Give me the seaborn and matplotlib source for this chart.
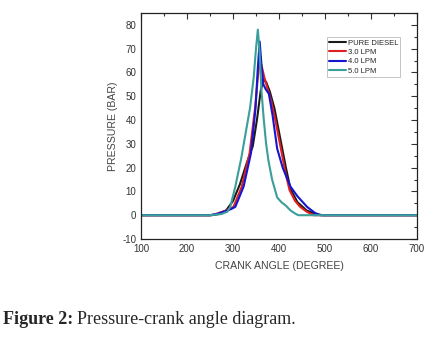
import numpy as np
import pandas as pd
import matplotlib
matplotlib.use('Agg')
import matplotlib.pyplot as plt
from matplotlib.ticker import MultipleLocator
import seaborn as sns

# values
diesel_x = [100, 250, 270, 285, 300, 315, 330, 343, 352, 360, 366, 372, 380, 390, 397, 405, 415, 425, 440, 460, 480, 495, 700]
diesel_y = [0, 0, 0.5, 2, 6, 13, 22, 29, 40, 52, 57, 56, 52, 45, 38, 30, 20, 11, 5.5, 2, 0.5, 0, 0]

lpm3_x = [100, 255, 270, 285, 301, 319, 336, 348, 354, 358, 362, 368, 374, 383, 392, 406, 415, 423, 435, 446, 460, 475, 700]
lpm3_y = [0, 0, 1, 2, 3.5, 12, 26, 45, 58, 65, 63, 58, 54, 48, 40, 26, 17, 10.5, 6, 3.5, 1.5, 0, 0]

lpm4_x = [100, 250, 265, 280, 295, 305, 323, 339, 349, 354, 358, 362, 366, 371, 378, 386, 396, 408, 425, 440, 461, 478, 490, 700]
lpm4_y = [0, 0, 0.5, 1.5, 2.5, 3.5, 12, 26, 45, 62, 73, 63, 55, 53, 51, 42, 28, 20, 12, 8, 3.5, 1, 0, 0]

lpm5_x = [100, 250, 275, 288, 294, 305, 318, 327, 337, 345, 350, 354, 358, 362, 367, 372, 377, 385, 396, 405, 415, 425, 435, 442, 700]
lpm5_y = [0, 0, 0.5, 1.5, 3.5, 12, 24, 34, 45, 58, 70, 78, 68, 52, 40, 30, 23, 15, 7.5, 5.5, 4, 2, 0.7, 0, 0]

series = ['PURE DIESEL', '3.0 LPM', '4.0 LPM', '5.0 LPM']
colors = ['#1a1a1a', '#e02020', '#1515d0', '#3a9e9a']

frames = []
for name, xs, ys in zip(series, [diesel_x, lpm3_x, lpm4_x, lpm5_x],
                        [diesel_y, lpm3_y, lpm4_y, lpm5_y]):
    frames.append(pd.DataFrame({'angle': xs, 'pressure': ys, 'fuel': name}))
df = pd.concat(frames, ignore_index=True)

sns.set_style('white')
plt.rcParams['font.family'] = ['Liberation Sans', 'DejaVu Sans']
plt.rcParams['axes.unicode_minus'] = False

fig = plt.figure(figsize=(4.36, 3.38), dpi=100)
ax = fig.add_axes([141 / 436, 1 - 239 / 338, 276 / 436, 226 / 338])

sns.lineplot(data=df, x='angle', y='pressure', hue='fuel', hue_order=series,
             palette=colors, linewidth=1.5, sort=False, estimator=None, ax=ax)

ax.set_xlim(100, 700)
ax.set_ylim(-10, 85)
ax.xaxis.set_major_locator(MultipleLocator(100))
ax.xaxis.set_minor_locator(MultipleLocator(50))
ax.yaxis.set_major_locator(MultipleLocator(10))
ax.yaxis.set_minor_locator(MultipleLocator(5))
ax.tick_params(which='both', direction='in', top=True, right=True,
               labelsize=7, colors='#333333', width=0.8)
ax.tick_params(which='major', length=4)
ax.tick_params(which='minor', length=2)
for s in ax.spines.values():
    s.set_color('#222222')
    s.set_linewidth(0.9)

ax.set_xlabel('CRANK ANGLE (DEGREE)', fontsize=7.6, color='#444444', labelpad=5)
ax.set_ylabel('PRESSURE (BAR)', fontsize=7.6, color='#444444', labelpad=3)

leg = ax.legend(loc='upper left', bbox_to_anchor=(0.66, 0.91), fontsize=5.5,
                frameon=True, fancybox=False, handlelength=2.2, handletextpad=0.2,
                borderpad=0.3, labelspacing=0.25, edgecolor='#aaaaaa')
leg.get_frame().set_linewidth(0.6)

fig.text(3 / 436, 1 - 320 / 338, 'Figure 2:', fontsize=13, fontweight='bold',
         family='Liberation Serif', va='center', ha='left')
fig.text(77 / 436, 1 - 320 / 338, 'Pressure-crank angle diagram.', fontsize=13,
         family='Liberation Serif', va='center', ha='left')

fig.savefig('out.png', dpi=100)
